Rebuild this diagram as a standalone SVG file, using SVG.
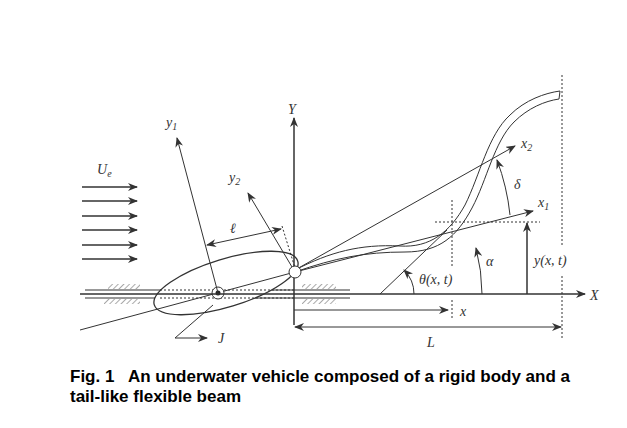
<svg xmlns="http://www.w3.org/2000/svg" width="627" height="428" viewBox="0 0 627 428">
<defs>
<marker id="a" markerWidth="10" markerHeight="8" refX="9" refY="4" orient="auto" markerUnits="userSpaceOnUse"><path d="M0,0 L10,4 L0,8 L3,4 Z" fill="#333"/></marker>
<marker id="b" markerWidth="10" markerHeight="8" refX="1" refY="4" orient="auto" markerUnits="userSpaceOnUse"><path d="M10,0 L0,4 L10,8 L7,4 Z" fill="#333"/></marker>
<pattern id="h" width="4" height="4" patternUnits="userSpaceOnUse" patternTransform="rotate(45)"><line x1="0" y1="0" x2="0" y2="4" stroke="#555" stroke-width="1"/></pattern>
</defs>
<style>
.l{stroke:#333;stroke-width:1;fill:none}
.t{stroke:#333;stroke-width:1.5;fill:none}
.d{stroke:#333;stroke-width:1;fill:none;stroke-dasharray:2,2}
.m{font-family:"Liberation Serif",serif;font-style:italic;font-size:14px;fill:#333}
.c{font-family:"Liberation Sans",sans-serif;font-weight:bold;font-size:17px;fill:#000}
</style>
<rect width="627" height="428" fill="#fff"/>
<g id="walls">
<line class="l" x1="85" y1="290" x2="350" y2="290"/>
<line class="l" x1="85" y1="298" x2="350" y2="298"/>
<rect x="108" y="284" width="32" height="5" fill="url(#h)"/>
<rect x="104" y="299" width="36" height="5" fill="url(#h)"/>
<rect x="302" y="284" width="34" height="5" fill="url(#h)"/>
<rect x="302" y="299" width="34" height="5" fill="url(#h)"/>
</g>
<g id="flow">
<line class="t" x1="82" y1="187" x2="137" y2="187" marker-end="url(#a)"/>
<line class="t" x1="82" y1="201" x2="137" y2="201" marker-end="url(#a)"/>
<line class="t" x1="82" y1="216" x2="137" y2="216" marker-end="url(#a)"/>
<line class="t" x1="82" y1="230" x2="137" y2="230" marker-end="url(#a)"/>
<line class="t" x1="82" y1="245" x2="137" y2="245" marker-end="url(#a)"/>
<line class="t" x1="82" y1="259" x2="137" y2="259" marker-end="url(#a)"/>
<text class="m" x="97" y="174">U<tspan font-size="10" dy="3">e</tspan></text>
</g>
<g id="body">
<ellipse cx="226" cy="283" rx="75" ry="24" transform="rotate(-17 226 283)" fill="#fff" stroke="#333" stroke-width="1.3"/>
<line class="d" x1="160" y1="290" x2="295" y2="290"/>
<line class="d" x1="160" y1="298" x2="295" y2="298"/>
<line class="l" x1="80" y1="330" x2="295" y2="272"/>
<circle cx="218" cy="293" r="6" fill="#fff" stroke="#333"/>
<circle cx="218" cy="293" r="2.5" fill="#222"/>
<line class="l" x1="213" y1="305" x2="175" y2="338"/>
<line class="l" x1="175" y1="338" x2="207" y2="338" marker-end="url(#a)"/>
<text class="m" x="218" y="343">J</text>
</g>
<g id="beam">
<path class="l" stroke-width="1.2" d="M295,270 C330,252 360,244 400,246 C430,248 450,232 465,205 C480,175 488,135 510,115 C525,100 545,93 560,91"/>
<path class="l" stroke-width="1.2" d="M295,272 C335,258 365,252 405,252 C440,252 457,236 472,208 C487,180 494,142 514,122 C528,108 545,101 559,99"/>
<path class="l" d="M560,91 L559,99"/>
</g>
<g id="connectors">
<line class="t" x1="294" y1="325" x2="294" y2="118" marker-end="url(#a)"/>
<line class="t" x1="80" y1="294" x2="585" y2="294" marker-end="url(#a)"/>
<line class="l" x1="218" y1="293" x2="177" y2="138" marker-end="url(#a)"/>
<line class="l" x1="295" y1="272" x2="248" y2="193" marker-end="url(#a)"/>
<line class="l" x1="207" y1="245" x2="281" y2="229" marker-start="url(#b)" marker-end="url(#a)"/>
<line class="d" x1="282" y1="226" x2="295" y2="268"/>
<line class="l" x1="295" y1="270" x2="515" y2="146" marker-end="url(#a)"/>
<line class="l" x1="295" y1="272" x2="533" y2="211" marker-end="url(#a)"/>
<line class="l" x1="380" y1="294" x2="447" y2="230"/>
<path class="l" d="M414,294 A34,34 0 0 0 404,270" marker-end="url(#a)"/>
<path class="l" d="M482,294 A187,187 0 0 0 476,248" marker-end="url(#a)"/>
<path class="l" d="M510,215 A220,220 0 0 0 497,160" marker-end="url(#a)"/>
<line class="d" x1="452" y1="200" x2="452" y2="266"/>
<line class="d" x1="452" y1="300" x2="452" y2="320"/>
<line class="d" x1="435" y1="222" x2="540" y2="222"/>
<line class="t" x1="527" y1="294" x2="527" y2="223" marker-end="url(#a)"/>
<line class="d" x1="562" y1="75" x2="562" y2="245"/>
<line class="d" x1="562" y1="276" x2="562" y2="340"/>
<line class="l" x1="294" y1="310" x2="448" y2="310" marker-end="url(#a)"/>
<line class="l" x1="295" y1="327" x2="561" y2="327" marker-start="url(#b)" marker-end="url(#a)"/>
</g>
<g id="pivot"><circle cx="295" cy="272" r="6" fill="#fff" stroke="#333"/></g>
<g id="labels">
<text class="m" x="288" y="114" font-size="15">Y</text>
<text class="m" x="590" y="300" font-size="15">X</text>
<text class="m" x="166" y="127">y<tspan font-size="10" dy="3">1</tspan></text>
<text class="m" x="229" y="182">y<tspan font-size="10" dy="3">2</tspan></text>
<text class="m" x="230" y="233">ℓ</text>
<text class="m" x="521" y="148">x<tspan font-size="10" dy="3">2</tspan></text>
<text class="m" x="538" y="207">x<tspan font-size="10" dy="3">1</tspan></text>
<text class="m" x="514" y="189">δ</text>
<text class="m" x="486" y="266">α</text>
<text class="m" x="419" y="284">θ(x, t)</text>
<text class="m" x="534" y="265">y(x, t)</text>
<text class="m" x="460" y="316">x</text>
<text class="m" x="427" y="347">L</text>
</g>
<g id="caption">
<text class="c" x="70" y="382" xml:space="preserve">Fig. 1   An underwater vehicle composed of a rigid body and a</text>
<text class="c" x="70" y="402">tail-like flexible beam</text>
</g>
</svg>
